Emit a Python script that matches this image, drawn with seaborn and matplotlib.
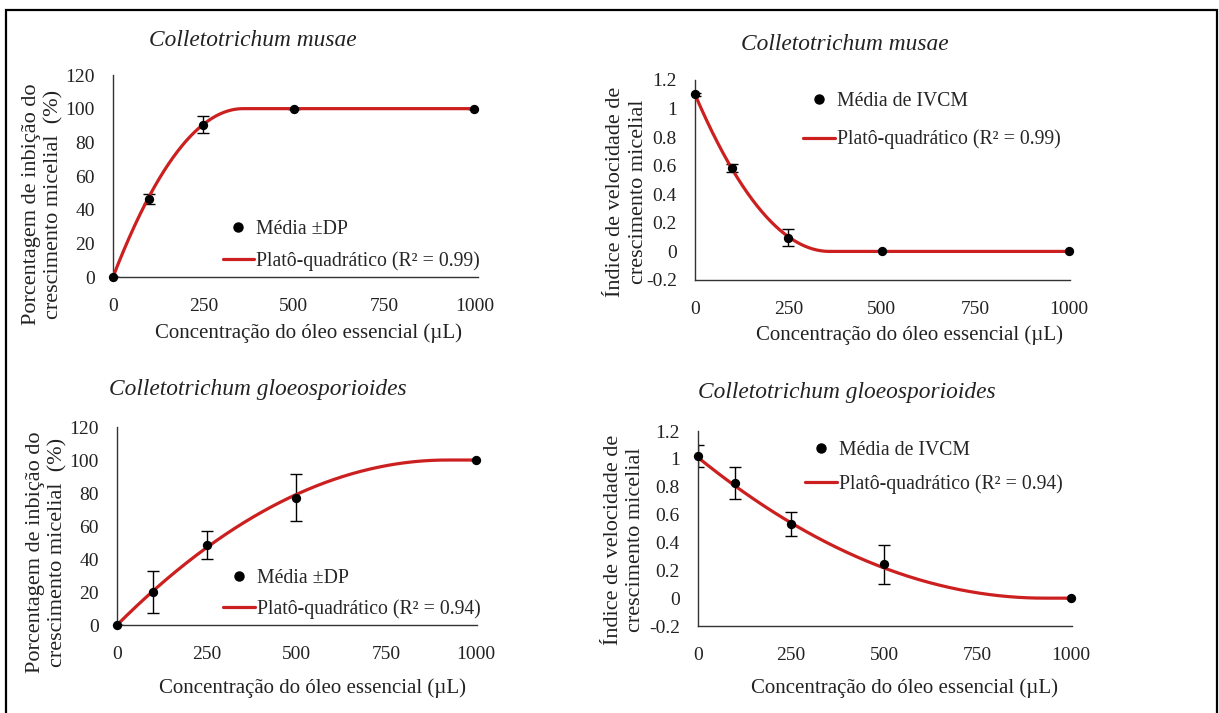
import numpy as np
import pandas as pd
import matplotlib
matplotlib.use("Agg")
import matplotlib.pyplot as plt
from matplotlib.patches import Rectangle
from matplotlib.lines import Line2D
import seaborn as sns

# ---------------- data ----------------
conc = [0, 100, 250, 500, 1000]
x_ticks = [0, 250, 500, 750, 1000]
x_ticklabels = ["0", "250", "500", "750", "1000"]

pct_ticks = [0, 20, 40, 60, 80, 100, 120]
pct_ticklabels = ["0", "20", "40", "60", "80", "100", "120"]
ivcm_ticks = [-0.2, 0, 0.2, 0.4, 0.6, 0.8, 1.0, 1.2]
ivcm_ticklabels = ["-0.2", "0", "0.2", "0.4", "0.6", "0.8", "1", "1.2"]

# C. musae – % inhibition
musae_pct_mean = [0, 46.3, 90.5, 100, 100]
musae_pct_sd = [0, 2.9, 5.2, 0, 0]
musae_pct_fit = (0.0, 0.5556, -0.0007716)      # a, b, c of plateau-quadratic
# C. musae – IVCM
musae_ivcm_mean = [1.10, 0.586, 0.096, 0, 0]
musae_ivcm_sd = [0.01, 0.027, 0.058, 0, 0]
musae_ivcm_fit = (1.10, -0.006111, 8.488e-6)
# C. gloeosporioides – % inhibition
gloeo_pct_mean = [0, 20.2, 48.5, 77.2, 100]
gloeo_pct_sd = [0, 12.8, 8.7, 14.2, 0]
gloeo_pct_fit = (0.0, 0.21739, -1.1815e-4)
# C. gloeosporioides – IVCM
gloeo_ivcm_mean = [1.02, 0.826, 0.532, 0.245, 0]
gloeo_ivcm_sd = [0.08, 0.115, 0.088, 0.14, 0]
gloeo_ivcm_fit = (1.01, -0.002172, 1.1678e-6)

title_musae = "Colletotrichum musae"
title_gloeo = "Colletotrichum gloeosporioides"
xlabel = "Concentração do óleo essencial (µL)"
ylabel_pct = "Porcentagem de inbição do\ncrescimento micelial  (%)"
ylabel_ivcm = "Índice de velocidade de\ncrescimento micelial"
leg_pts_pct = "Média ±DP"
leg_pts_ivcm = "Média de IVCM"
leg_fit_99 = "Platô-quadrático (R² = 0.99)"
leg_fit_94 = "Platô-quadrático (R² = 0.94)"

# ---------------- style ----------------
sns.set_theme(style="white")
plt.rcParams["font.family"] = ["Liberation Serif", "DejaVu Serif"]
FS_TICK = 14
FS_XL = 15
FS_YL = 16
FS_LEG = 14.2
FS_TITLE = 16.8
RED = "#CC2020"
TXT = "#222222"

fig = plt.figure(figsize=(12.19, 7.13), dpi=100)
fig.patch.set_facecolor("white")
fig.patches.append(Rectangle((6 / 1219, -0.02), 1211 / 1219, 1.02 - 10 / 713,
                             transform=fig.transFigure, fill=False,
                             edgecolor="black", linewidth=1.6, zorder=10))

panels = [
    dict(rect=[0.0927, 0.6115, 0.2994, 0.2833], xmax=1010,
         mean=musae_pct_mean, sd=musae_pct_sd, fit=musae_pct_fit,
         ylim=(0, 120), yt=pct_ticks, ytl=pct_ticklabels,
         title=title_musae, tpos=(0.384, 1.173),
         ylabel=ylabel_pct, ylpos=(-0.192, 0.361), xlpos=(0.537, -0.277),
         leg=(leg_pts_pct, leg_fit_99), legloc="lower right", legbb=(1.005, 0.03), legsp=0.6),
    dict(rect=[0.5701, 0.6073, 0.3076, 0.2805], xmax=1003,
         mean=musae_ivcm_mean, sd=musae_ivcm_sd, fit=musae_ivcm_fit,
         ylim=(-0.2, 1.2), yt=ivcm_ticks, ytl=ivcm_ticklabels,
         title=title_musae, tpos=(0.40, 1.175),
         ylabel=ylabel_ivcm, ylpos=(-0.181, 0.44), xlpos=(0.571, -0.275),
         leg=(leg_pts_ivcm, leg_fit_99), legloc="upper right", legbb=(0.975, 0.94), legsp=0.95),
    dict(rect=[0.0960, 0.1234, 0.2953, 0.2777], xmax=1003,
         mean=gloeo_pct_mean, sd=gloeo_pct_sd, fit=gloeo_pct_fit,
         ylim=(0, 120), yt=pct_ticks, ytl=pct_ticklabels,
         title=title_gloeo, tpos=(0.39, 1.187),
         ylabel=ylabel_pct, ylpos=(-0.195, 0.369), xlpos=(0.544, -0.318),
         leg=(leg_pts_pct, leg_fit_94), legloc="lower right", legbb=(1.01, 0.03), legsp=0.6),
    dict(rect=[0.5726, 0.1220, 0.3068, 0.2735], xmax=1003,
         mean=gloeo_ivcm_mean, sd=gloeo_ivcm_sd, fit=gloeo_ivcm_fit,
         ylim=(-0.2, 1.2), yt=ivcm_ticks, ytl=ivcm_ticklabels,
         title=title_gloeo, tpos=(0.398, 1.20),
         ylabel=ylabel_ivcm, ylpos=(-0.196, 0.441), xlpos=(0.551, -0.318),
         leg=(leg_pts_ivcm, leg_fit_94), legloc="upper right", legbb=(0.975, 0.95), legsp=0.75),
]

for p in panels:
    ax = fig.add_axes(p["rect"])
    ax.set_facecolor("white")
    a, b, c = p["fit"]
    x0 = -b / (2 * c)
    xs = np.linspace(0, 1000, 400)
    xc = np.minimum(xs, x0)
    ys = a + b * xc + c * xc ** 2
    fit_df = pd.DataFrame({"x": xs, "y": ys})
    pts_df = pd.DataFrame({"x": conc, "y": p["mean"], "sd": p["sd"]})

    ax.errorbar(pts_df["x"], pts_df["y"], yerr=pts_df["sd"], fmt="none",
                ecolor="black", elinewidth=1.0, capsize=4.5, capthick=1.0, zorder=2)
    sns.lineplot(data=fit_df, x="x", y="y", ax=ax, color=RED, linewidth=2.3,
                 zorder=3, legend=False)
    sns.scatterplot(data=pts_df, x="x", y="y", ax=ax, color="black", s=45,
                    edgecolor="black", linewidth=0, zorder=4, legend=False, clip_on=False)

    ax.set_xlim(0, p["xmax"])
    ax.set_ylim(*p["ylim"])
    ax.set_xticks(x_ticks)
    ax.set_xticklabels(x_ticklabels)
    ax.set_yticks(p["yt"])
    ax.set_yticklabels(p["ytl"])
    ax.tick_params(axis="both", length=0, labelsize=FS_TICK, colors=TXT)
    ax.tick_params(axis="x", pad=15)
    ax.tick_params(axis="y", pad=13)
    for s in ["top", "right"]:
        ax.spines[s].set_visible(False)
    for s in ["left", "bottom"]:
        ax.spines[s].set_color("#333333")
        ax.spines[s].set_linewidth(1.0)

    ax.set_xlabel(xlabel, fontsize=FS_XL, color=TXT)
    ax.xaxis.set_label_coords(*p["xlpos"])
    ax.xaxis.label.set_va("center")
    ax.set_ylabel(p["ylabel"], fontsize=FS_YL, color=TXT, linespacing=1.25)
    ax.yaxis.set_label_coords(*p["ylpos"])
    ax.yaxis.label.set_va("center")

    ax.text(p["tpos"][0], p["tpos"][1], p["title"], transform=ax.transAxes,
            ha="center", va="center", fontsize=FS_TITLE, style="italic", color=TXT)

    handles = [Line2D([], [], marker="o", linestyle="none", color="black", markersize=6.5),
               Line2D([], [], color=RED, linewidth=2.3)]
    ax.legend(handles, list(p["leg"]), loc=p["legloc"], bbox_to_anchor=p["legbb"],
              frameon=False, fontsize=FS_LEG, handlelength=1.6, handletextpad=0.1,
              borderpad=0, borderaxespad=0, labelspacing=p["legsp"])

fig.savefig("out.png", dpi=100, facecolor="white")
